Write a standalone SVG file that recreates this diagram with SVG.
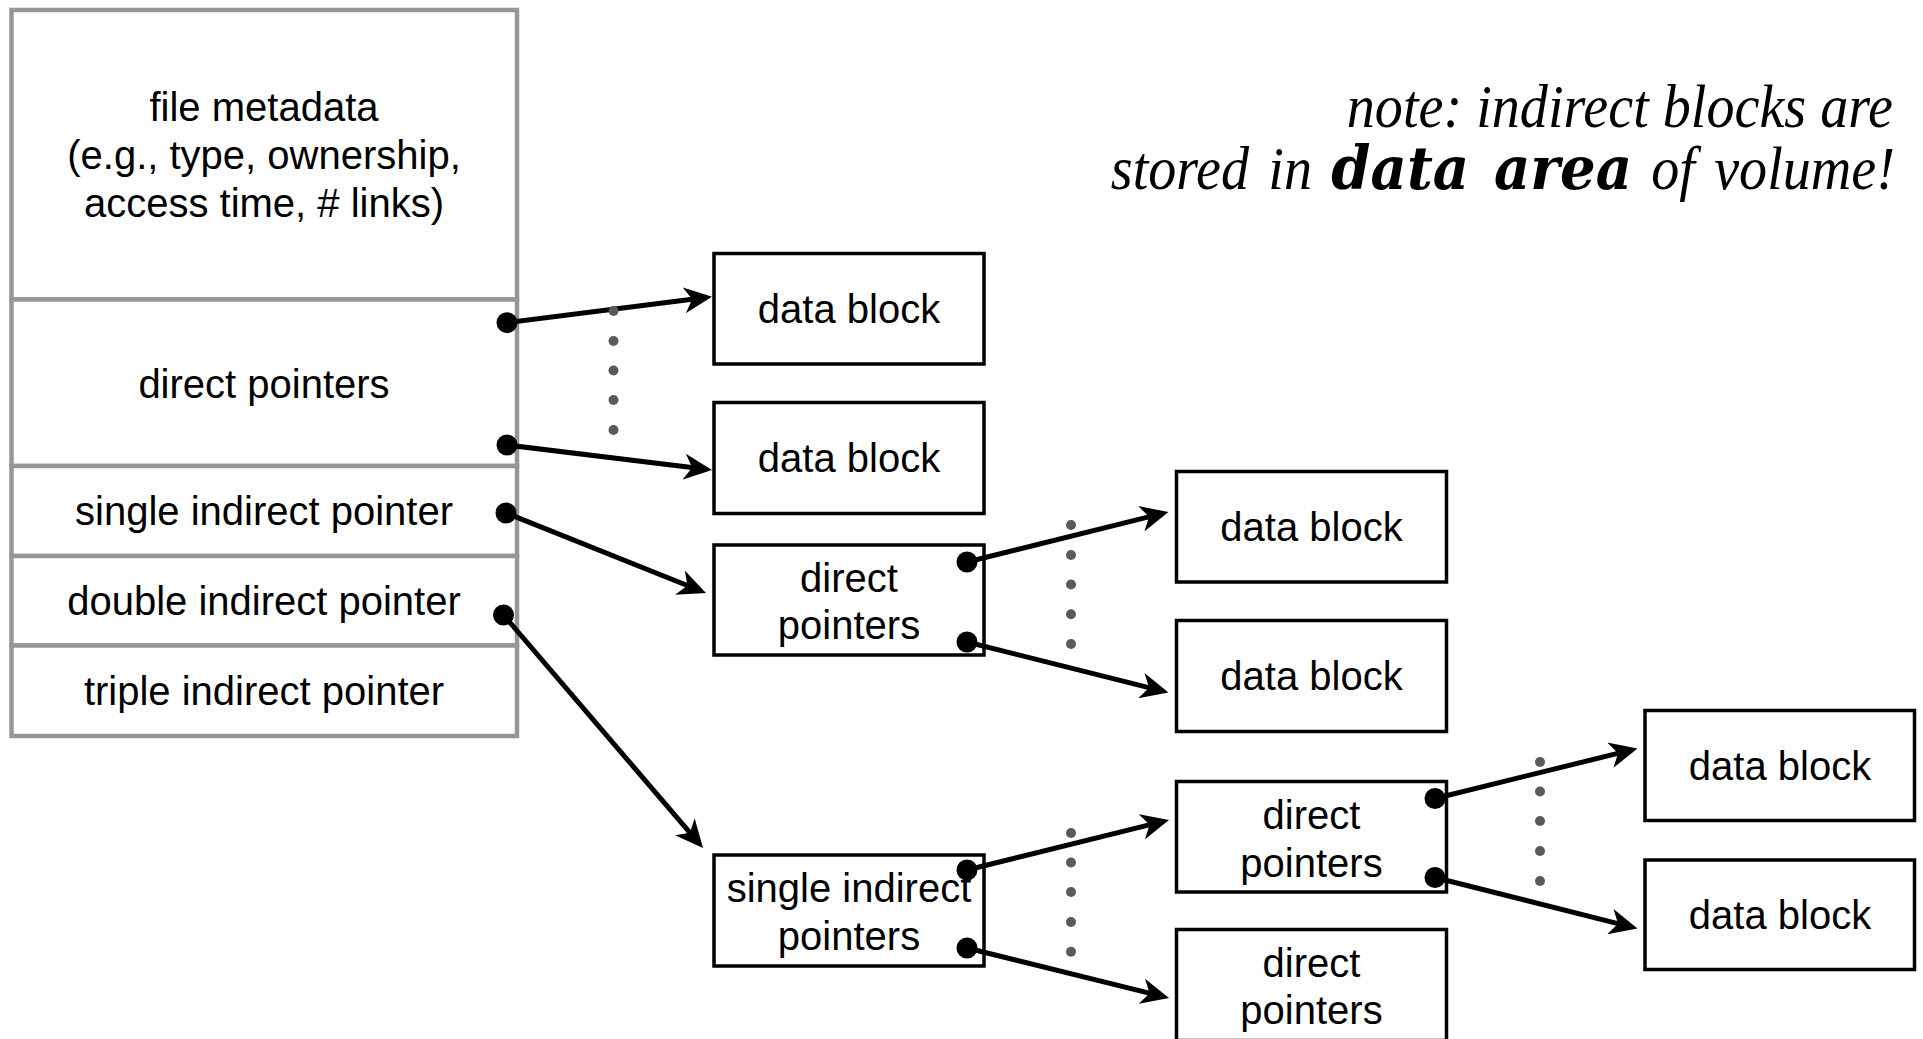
<svg xmlns="http://www.w3.org/2000/svg" width="1923" height="1039" viewBox="0 0 1923 1039">
<defs>
<style>
.lbl{font-family:"Liberation Sans",Arial,Helvetica,sans-serif;font-size:40px;fill:#000;text-anchor:middle}
.cell{fill:#fff;stroke:#969696;stroke-width:4.5}
.box{fill:#fff;stroke:#000;stroke-width:3.5}
.conn{stroke:#000;stroke-width:5;fill:none;marker-end:url(#ah)}
.pin{fill:#000}
.dot{fill:#5a5a5a}
.note{font-family:"Liberation Serif","Times New Roman",serif;font-style:italic;font-size:54px;fill:#000;text-anchor:end}
.em{font-family:"DejaVu Serif",serif;font-weight:bold;font-style:italic}
</style>
<marker id="ah" viewBox="0 0 28 26" refX="18" refY="13" markerWidth="28" markerHeight="26" markerUnits="userSpaceOnUse" orient="auto">
<path d="M0,0 L28,13 L0,26 L8,13 Z" fill="#000"/>
</marker>
</defs>
<rect x="0" y="0" width="1923" height="1039" fill="#fff"/>

<g id="inode">
<g id="metadata">
<rect class="cell" x="11.5" y="10" width="505.5" height="289.5"/>
<text class="lbl" x="264" y="121">file metadata</text>
<text class="lbl" x="264" y="169">(e.g., type, ownership,</text>
<text class="lbl" x="264" y="217">access time, # links)</text>
</g>
<g id="direct-pointers">
<rect class="cell" x="11.5" y="299.5" width="505.5" height="166.5"/>
<text class="lbl" x="264" y="398">direct pointers</text>
</g>
<g id="single-indirect">
<rect class="cell" x="11.5" y="466" width="505.5" height="90"/>
<text class="lbl" x="264" y="525">single indirect pointer</text>
</g>
<g id="double-indirect">
<rect class="cell" x="11.5" y="556" width="505.5" height="89.5"/>
<text class="lbl" x="264" y="615">double indirect pointer</text>
</g>
<g id="triple-indirect">
<rect class="cell" x="11.5" y="645.5" width="505.5" height="90.5"/>
<text class="lbl" x="264" y="705">triple indirect pointer</text>
</g>
</g>

<g id="db1">
<rect class="box" x="714" y="253.5" width="270" height="110.5"/>
<text class="lbl" x="849" y="323">data block</text>
</g>
<g id="db2">
<rect class="box" x="714" y="402.5" width="270" height="111"/>
<text class="lbl" x="849" y="472">data block</text>
</g>
<g id="dp1">
<rect class="box" x="714" y="545" width="270" height="110"/>
<text class="lbl" x="849" y="592">direct</text>
<text class="lbl" x="849" y="639">pointers</text>
</g>
<g id="sip">
<rect class="box" x="714" y="855" width="270" height="111"/>
<text class="lbl" x="849" y="902">single indirect</text>
<text class="lbl" x="849" y="950">pointers</text>
</g>
<g id="db3">
<rect class="box" x="1176.5" y="471.5" width="270" height="110.5"/>
<text class="lbl" x="1311.5" y="541">data block</text>
</g>
<g id="db4">
<rect class="box" x="1176.5" y="620.5" width="270" height="111"/>
<text class="lbl" x="1311.5" y="690">data block</text>
</g>
<g id="dp2">
<rect class="box" x="1176.5" y="781.5" width="270" height="110.5"/>
<text class="lbl" x="1311.5" y="828.5">direct</text>
<text class="lbl" x="1311.5" y="876.5">pointers</text>
</g>
<g id="dp3">
<rect class="box" x="1176.5" y="929.5" width="270" height="111"/>
<text class="lbl" x="1311.5" y="977">direct</text>
<text class="lbl" x="1311.5" y="1024">pointers</text>
</g>
<g id="db5">
<rect class="box" x="1645" y="710.5" width="269.5" height="110"/>
<text class="lbl" x="1780" y="780">data block</text>
</g>
<g id="db6">
<rect class="box" x="1645" y="860" width="269.5" height="109.5"/>
<text class="lbl" x="1780" y="929">data block</text>
</g>

<g id="connectors">
<line class="conn" x1="507" y1="322.7" x2="702.1" y2="298"/>
<line class="conn" x1="507" y1="445" x2="702.1" y2="468.8"/>
<line class="conn" x1="506" y1="513" x2="696.7" y2="589.3"/>
<line class="conn" x1="503.5" y1="615" x2="696.5" y2="840.4"/>
<line class="conn" x1="967" y1="562" x2="1158.8" y2="514.4"/>
<line class="conn" x1="967" y1="642" x2="1158.8" y2="690.1"/>
<line class="conn" x1="967" y1="870" x2="1159.3" y2="822.4"/>
<line class="conn" x1="967" y1="948" x2="1159.3" y2="995.6"/>
<line class="conn" x1="1435" y1="798.5" x2="1627.8" y2="750.9"/>
<line class="conn" x1="1435" y1="877.5" x2="1627.8" y2="926.1"/>
<circle class="pin" cx="507" cy="322.7" r="10.5"/>
<circle class="pin" cx="507" cy="445" r="10.5"/>
<circle class="pin" cx="506" cy="513" r="10.5"/>
<circle class="pin" cx="503.5" cy="615" r="10.5"/>
<circle class="pin" cx="967" cy="562" r="10.5"/>
<circle class="pin" cx="967" cy="642" r="10.5"/>
<circle class="pin" cx="967" cy="870" r="10.5"/>
<circle class="pin" cx="967" cy="948" r="10.5"/>
<circle class="pin" cx="1435" cy="798.5" r="10.5"/>
<circle class="pin" cx="1435" cy="877.5" r="10.5"/>
<g id="ellipses">
<circle class="dot" cx="613.5" cy="311" r="5"/>
<circle class="dot" cx="613.5" cy="341" r="5"/>
<circle class="dot" cx="613.5" cy="370.5" r="5"/>
<circle class="dot" cx="613.5" cy="400" r="5"/>
<circle class="dot" cx="613.5" cy="430" r="5"/>
<circle class="dot" cx="1071" cy="525" r="5"/>
<circle class="dot" cx="1071" cy="555" r="5"/>
<circle class="dot" cx="1071" cy="584.5" r="5"/>
<circle class="dot" cx="1071" cy="614.3" r="5"/>
<circle class="dot" cx="1071" cy="644" r="5"/>
<circle class="dot" cx="1071" cy="833" r="5"/>
<circle class="dot" cx="1071" cy="862.5" r="5"/>
<circle class="dot" cx="1071" cy="892" r="5"/>
<circle class="dot" cx="1071" cy="922" r="5"/>
<circle class="dot" cx="1071" cy="951.7" r="5"/>
<circle class="dot" cx="1540" cy="762" r="5"/>
<circle class="dot" cx="1540" cy="791.5" r="5"/>
<circle class="dot" cx="1540" cy="821" r="5"/>
<circle class="dot" cx="1540" cy="851" r="5"/>
<circle class="dot" cx="1540" cy="881" r="5"/>
</g>
</g>

<g id="note">
<text class="note" transform="translate(1893,126.5) scale(1.04,1.12)" x="0" y="0">note: indirect blocks are</text>
<text class="note" transform="translate(1895,188.5) scale(1.04,1.12)" x="0" y="0" word-spacing="5">stored in <tspan class="em">data area</tspan> of volume!</text>
</g>
</svg>
